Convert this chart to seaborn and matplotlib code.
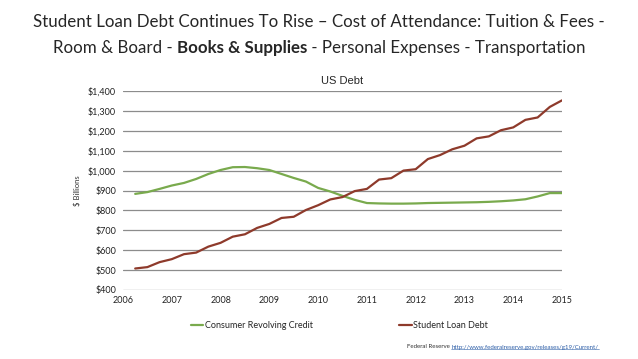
import numpy as np
import pandas as pd
import matplotlib
matplotlib.use('Agg')
import matplotlib.pyplot as plt
import matplotlib.ticker as mticker
import seaborn as sns

# quarterly values, $ billions, 2006 Q2 .. 2015 Q1
quarters = np.arange(1, 37) / 4 + 2006
revolving = [883, 892, 908, 925, 938, 958, 983, 1003, 1017, 1018, 1012, 1003,
             983, 963, 945, 913, 895, 873, 853, 837, 835, 834, 834, 835,
             837, 838, 839, 840, 841, 843, 846, 850, 856, 870, 887, 887]
student = [508, 515, 540, 555, 580, 588, 618, 637, 668, 680, 712, 732,
           762, 768, 802, 826, 855, 867, 897, 908, 955, 962, 1000, 1007,
           1058, 1078, 1107, 1125, 1162, 1172, 1203, 1217, 1255, 1267, 1320, 1353]
series_names = ['Consumer Revolving Credit', 'Student Loan Debt']
year_ticks = list(range(2006, 2016))
debt_ticks = list(range(400, 1401, 100))

df = pd.DataFrame({
    'year': np.concatenate([quarters, quarters]),
    'debt': revolving + student,
    'series': [series_names[0]] * 36 + [series_names[1]] * 36,
})

sns.set_style('white')
plt.rcParams['font.family'] = ['Lato', 'DejaVu Sans']

fig = plt.figure(figsize=(6.38, 3.59), dpi=100)
ax = fig.add_axes([123 / 638, 69 / 359, 439 / 638, 199 / 359])

colors = {series_names[0]: '#79aa4d', series_names[1]: '#8e3a2b'}
sns.lineplot(data=df, x='year', y='debt', hue='series', palette=colors,
             linewidth=1.6, ax=ax, legend=False)

ax.set_xlim(2006, 2015)
ax.set_ylim(400, 1400)
ax.set_xticks(year_ticks)
ax.set_yticks(debt_ticks)
ax.yaxis.set_major_formatter(mticker.FuncFormatter(lambda v, p: f'${v:,.0f}'))
ax.tick_params(axis='both', length=0, labelsize=6.5, colors='#222222')
ax.tick_params(axis='x', pad=4.5)
ax.tick_params(axis='y', pad=5)
ax.grid(axis='y', color='#8c8c8c', linewidth=0.9)
ax.set_axisbelow(True)
for s in ax.spines.values():
    s.set_visible(False)
ax.set_xlabel('')
ax.set_ylabel('$ Billions', fontsize=5.5, labelpad=5, color='#333333')
ax.set_title('US Debt', fontsize=8, family='Liberation Sans', pad=5)

handles = [plt.Line2D([], [], color=colors[n], linewidth=1.6) for n in series_names]
ax.legend(handles, series_names, loc='upper center', bbox_to_anchor=(0.493, -0.115),
          ncol=2, frameon=False, fontsize=6.5, handlelength=1.4, handletextpad=0.2,
          columnspacing=9.5)

# title: two lines, with a bold part in line 2
line1 = fig.text(0.5, 1 - 22 / 359, 'Student Loan Debt Continues To Rise \u2013 Cost of Attendance: Tuition & Fees -',
                 ha='center', va='center', fontsize=12.2)
parts = [('Room & Board - ', 'normal'), ('Books & Supplies', 'bold'),
         (' - Personal Expenses - Transportation', 'normal')]
pieces = [fig.text(0, 1 - 48 / 359, t, ha='left', va='center', fontsize=12.2, weight=w)
          for t, w in parts]

foot = [('Federal Reserve ', '#333333', False),
        ('http://www.federalreserve.gov/releases/g19/Current/', '#2e5fa8', True)]
fpieces = [fig.text(0, 1 - 347 / 359, t, ha='left', va='center', fontsize=4.4, color=c)
           for t, c, u in foot]

fig.canvas.draw()
r = fig.canvas.get_renderer()

def lay_out(texts, x_start):
    x = x_start
    for t in texts:
        t.set_x(x / 638)
        x += t.get_window_extent(r).width
    return x

widths = sum(t.get_window_extent(r).width for t in pieces)
lay_out(pieces, 319 - widths / 2)
lay_out(fpieces, 407)
# underline for the link
bb = fpieces[1].get_window_extent(r)
fig.add_artist(plt.Line2D([bb.x0 / 638, bb.x1 / 638], [(bb.y0 + 0.5) / 359] * 2,
                          color='#2e5fa8', linewidth=0.4))

fig.savefig('out.png', dpi=100)
